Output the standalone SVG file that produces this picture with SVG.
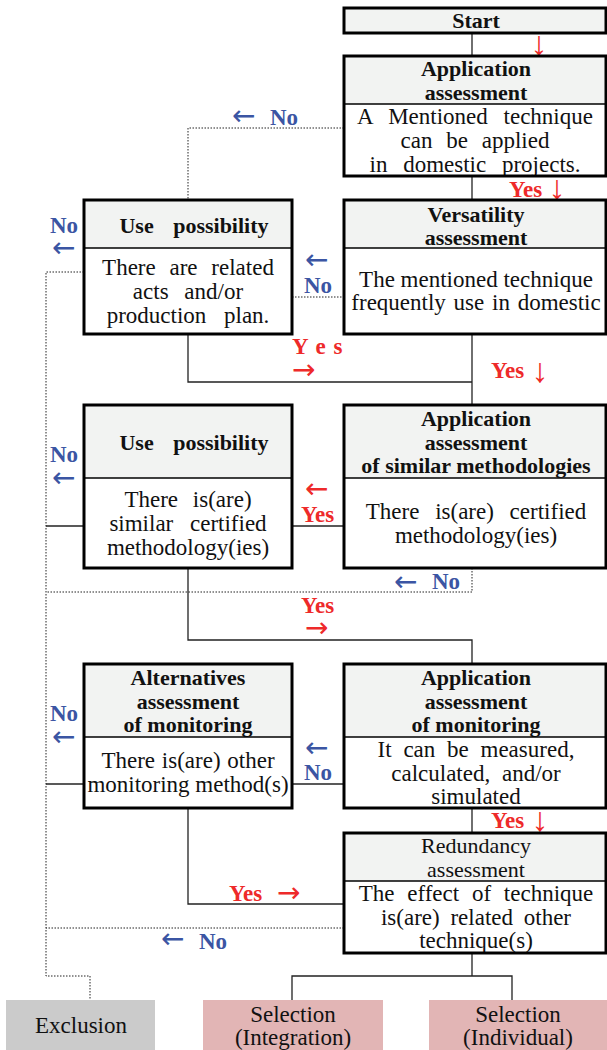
<svg xmlns="http://www.w3.org/2000/svg" width="607" height="1050" viewBox="0 0 607 1050">
<style>
.hdr{fill:#f2f3f2;stroke:none}
.bod{fill:#ffffff;stroke:none}
.out{fill:none;stroke:#000;stroke-width:3}
.div{stroke:#000;stroke-width:1.5}
.t{font-family:"Liberation Serif","Times New Roman",serif;font-size:23px;text-anchor:middle;fill:#111}
.h{font-family:"Liberation Serif","Times New Roman",serif;font-size:22px;font-weight:bold;text-anchor:middle;fill:#111}
.hr{font-family:"Liberation Serif","Times New Roman",serif;font-size:22px;text-anchor:middle;fill:#111}
.no{font-family:"Liberation Serif","Times New Roman",serif;font-size:23px;font-weight:bold;fill:#3b55a3}
.yes{font-family:"Liberation Serif","Times New Roman",serif;font-size:23px;font-weight:bold;fill:#ee2a2a}
.ha{font-family:"DejaVu Sans",sans-serif;font-size:28px;font-weight:normal}
.va{font-family:"Liberation Serif","Times New Roman",serif;font-size:34px;font-weight:normal;text-anchor:middle}
.ln{fill:none;stroke:#222;stroke-width:1.3}
.dt{fill:none;stroke:#222;stroke-width:1;stroke-dasharray:1.5 1.5}
</style>

<g id="connectors">
  <path class="ln" d="M472 33V56"/>
  <path class="ln" d="M472 176V200"/>
  <path class="ln" d="M472 334V405"/>
  <path class="ln" d="M188 334V382H472"/>
  <path class="ln" d="M292 526H344"/>
  <path class="ln" d="M46 526H84"/>
  <path class="ln" d="M188 568V640H472V664"/>
  <path class="ln" d="M292 784H344"/>
  <path class="ln" d="M46 784H84"/>
  <path class="ln" d="M472 808V833"/>
  <path class="ln" d="M188 808V904H344"/>
  <path class="ln" d="M472 953V976M292 1000V976H512V1000"/>
  <path class="dt" d="M344 128H188V200"/>
  <path class="dt" d="M292 297H344"/>
  <path class="dt" d="M84 272H46V976H90V1000"/>
  <path class="dt" d="M472 568V592H46"/>
  <path class="dt" d="M344 928H46"/>
</g>

<g id="labels">
  <text class="yes va" x="539" y="55">↓</text>
  <text class="no ha" x="232" y="125">←</text>
  <text class="no" x="270" y="125">No</text>
  <text class="yes" x="509" y="197">Yes</text>
  <text class="yes va" x="557" y="199">↓</text>
  <text class="no" x="50" y="233">No</text>
  <text class="no ha" x="52" y="257">←</text>
  <text class="no ha" x="305" y="269">←</text>
  <text class="no" x="304" y="293">No</text>
  <text class="yes" x="292" y="354" style="word-spacing:2px">Y e s</text>
  <text class="yes ha" x="292" y="379">→</text>
  <text class="yes" x="491" y="378">Yes</text>
  <text class="yes va" x="540" y="382">↓</text>
  <text class="no" x="50" y="462">No</text>
  <text class="no ha" x="52" y="487">←</text>
  <text class="yes ha" x="305" y="498">←</text>
  <text class="yes" x="301" y="522">Yes</text>
  <text class="no ha" x="394" y="591">←</text>
  <text class="no" x="432" y="589">No</text>
  <text class="yes" x="301" y="613">Yes</text>
  <text class="yes ha" x="305" y="637">→</text>
  <text class="no" x="50" y="721">No</text>
  <text class="no ha" x="52" y="746">←</text>
  <text class="no ha" x="305" y="757">←</text>
  <text class="no" x="304" y="780">No</text>
  <text class="yes" x="491" y="828">Yes</text>
  <text class="yes va" x="540" y="831">↓</text>
  <text class="yes" x="229" y="901">Yes</text>
  <text class="yes ha" x="277" y="902">→</text>
  <text class="no ha" x="161" y="948">←</text>
  <text class="no" x="199" y="949">No</text>
</g>

<g id="start">
  <rect class="hdr" x="344" y="8" width="262" height="25"/>
  <rect class="out" x="344" y="8" width="262" height="25"/>
  <text class="h" x="476" y="28">Start</text>
</g>

<g id="application-assessment">
  <rect class="hdr" x="344" y="56" width="262" height="48"/>
  <rect class="bod" x="344" y="104" width="262" height="72"/>
  <line class="div" x1="344" y1="104" x2="606" y2="104"/>
  <text class="h" x="476" y="76">Application</text>
  <text class="h" x="476" y="100">assessment</text>
  <text class="t" x="475" y="124" style="word-spacing:10px">A Mentioned technique</text>
  <text class="t" x="475" y="148" style="word-spacing:8px">can be applied</text>
  <text class="t" x="475" y="172" style="word-spacing:10px">in domestic projects.</text>
  <rect class="out" x="344" y="56" width="262" height="120"/>
</g>

<g id="versatility-assessment">
  <rect class="hdr" x="344" y="200" width="262" height="48"/>
  <rect class="bod" x="344" y="248" width="262" height="86"/>
  <line class="div" x1="344" y1="248" x2="606" y2="248"/>
  <text class="h" x="476" y="222">Versatility</text>
  <text class="h" x="476" y="245">assessment</text>
  <text class="t" x="476" y="287">The mentioned technique</text>
  <text class="t" x="476" y="310" style="word-spacing:2px">frequently use in domestic</text>
  <rect class="out" x="344" y="200" width="262" height="134"/>
</g>

<g id="use-possibility-1">
  <rect class="hdr" x="84" y="200" width="208" height="48"/>
  <rect class="bod" x="84" y="248" width="208" height="86"/>
  <line class="div" x1="84" y1="248" x2="292" y2="248"/>
  <text class="h" x="194" y="233" style="word-spacing:14px">Use possibility</text>
  <text class="t" x="188" y="275" style="word-spacing:8px">There are related</text>
  <text class="t" x="188" y="299" style="word-spacing:10px">acts and/or</text>
  <text class="t" x="188" y="323" style="word-spacing:12px">production plan.</text>
  <rect class="out" x="84" y="200" width="208" height="134"/>
</g>

<g id="similar-methodologies-assessment">
  <rect class="hdr" x="344" y="405" width="262" height="73"/>
  <rect class="bod" x="344" y="478" width="262" height="90"/>
  <line class="div" x1="344" y1="478" x2="606" y2="478"/>
  <text class="h" x="476" y="426">Application</text>
  <text class="h" x="476" y="450">assessment</text>
  <text class="h" x="476" y="473">of similar methodologies</text>
  <text class="t" x="476" y="519" style="word-spacing:10px">There is(are) certified</text>
  <text class="t" x="476" y="543">methodology(ies)</text>
  <rect class="out" x="344" y="405" width="262" height="163"/>
</g>

<g id="use-possibility-2">
  <rect class="hdr" x="84" y="405" width="208" height="73"/>
  <rect class="bod" x="84" y="478" width="208" height="90"/>
  <line class="div" x1="84" y1="478" x2="292" y2="478"/>
  <text class="h" x="194" y="450" style="word-spacing:14px">Use possibility</text>
  <text class="t" x="188" y="507" style="word-spacing:9px">There is(are)</text>
  <text class="t" x="188" y="531" style="word-spacing:11px">similar certified</text>
  <text class="t" x="188" y="555">methodology(ies)</text>
  <rect class="out" x="84" y="405" width="208" height="163"/>
</g>

<g id="monitoring-assessment">
  <rect class="hdr" x="344" y="664" width="262" height="73"/>
  <rect class="bod" x="344" y="737" width="262" height="71"/>
  <text class="h" x="476" y="685">Application</text>
  <text class="h" x="476" y="709">assessment</text>
  <text class="h" x="476" y="732">of monitoring</text>
  <line class="div" x1="344" y1="737" x2="606" y2="737"/>
  <text class="t" x="476" y="757" style="word-spacing:6px">It can be measured,</text>
  <text class="t" x="476" y="781" style="word-spacing:6px">calculated, and/or</text>
  <text class="t" x="476" y="804">simulated</text>
  <rect class="out" x="344" y="664" width="262" height="144"/>
</g>

<g id="alternatives-assessment">
  <rect class="hdr" x="84" y="664" width="208" height="73"/>
  <rect class="bod" x="84" y="737" width="208" height="71"/>
  <text class="h" x="188" y="685">Alternatives</text>
  <text class="h" x="188" y="709">assessment</text>
  <text class="h" x="188" y="732">of monitoring</text>
  <line class="div" x1="84" y1="737" x2="292" y2="737"/>
  <text class="t" x="188" y="768" style="word-spacing:1px">There is(are) other</text>
  <text class="t" x="188" y="792">monitoring method(s)</text>
  <rect class="out" x="84" y="664" width="208" height="144"/>
</g>

<g id="redundancy-assessment">
  <rect class="hdr" x="344" y="833" width="262" height="48"/>
  <rect class="bod" x="344" y="881" width="262" height="72"/>
  <line class="div" x1="344" y1="881" x2="606" y2="881"/>
  <text class="hr" x="476" y="853">Redundancy</text>
  <text class="hr" x="476" y="877">assessment</text>
  <text class="t" x="476" y="901" style="word-spacing:7px">The effect of technique</text>
  <text class="t" x="476" y="925" style="word-spacing:5px">is(are) related other</text>
  <text class="t" x="476" y="948">technique(s)</text>
  <rect class="out" x="344" y="833" width="262" height="120"/>
</g>

<g id="exclusion">
  <rect x="6" y="1000" width="149" height="50" fill="#cbcbcb"/>
  <text class="t" x="81" y="1033">Exclusion</text>
</g>

<g id="selection-integration">
  <rect x="203" y="1000" width="180" height="50" fill="#e2b5b5"/>
  <text class="t" x="293" y="1022">Selection</text>
  <text class="t" x="293" y="1045">(Integration)</text>
</g>

<g id="selection-individual">
  <rect x="429" y="1000" width="178" height="50" fill="#e2b5b5"/>
  <text class="t" x="518" y="1022">Selection</text>
  <text class="t" x="518" y="1045">(Individual)</text>
</g>
</svg>
